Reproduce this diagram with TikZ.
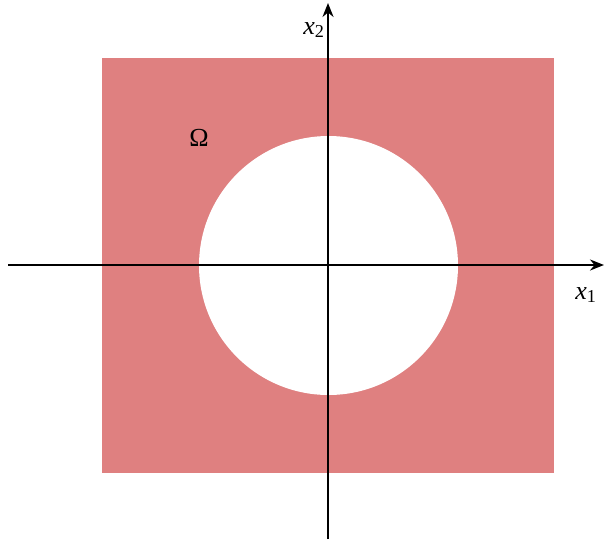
\documentclass[tikz,border=0pt]{standalone}
\usepackage{fontspec}
\setmainfont{Liberation Serif}
\usepackage{tikz}
\usetikzlibrary{arrows.meta,positioning}
\definecolor{omegared}{RGB}{223,128,128}

\begin{document}
\begin{tikzpicture}[
  x=1pt, y=-1pt,
  every node/.style={font=\fontsize{26}{30}\selectfont},
  axis/.style={line width=2pt, -{Stealth[length=14pt,width=11pt]}},
  >=Stealth
]
\useasboundingbox (0,0) rectangle (604,539);
% domain with hole
\fill[omegared] (102,58) rectangle (554,473);
\fill[white] (328.5,265.5) circle[radius=129.5];
% axes
\coordinate (xl) at (8,265);
\coordinate (xr) at (604,265);
\coordinate (yb) at (328,539);
\coordinate (yt) at (328,3);
\draw[axis] (xl) -- (xr);
\draw[axis] (yb) -- (yt);
\node (xone) at (586,295) {\textit{x}\textsubscript{1}};
\node (xtwo) at (314,30) {\textit{x}\textsubscript{2}};
\node (omega) at (199,138) {Ω};
\end{tikzpicture}
\end{document}
